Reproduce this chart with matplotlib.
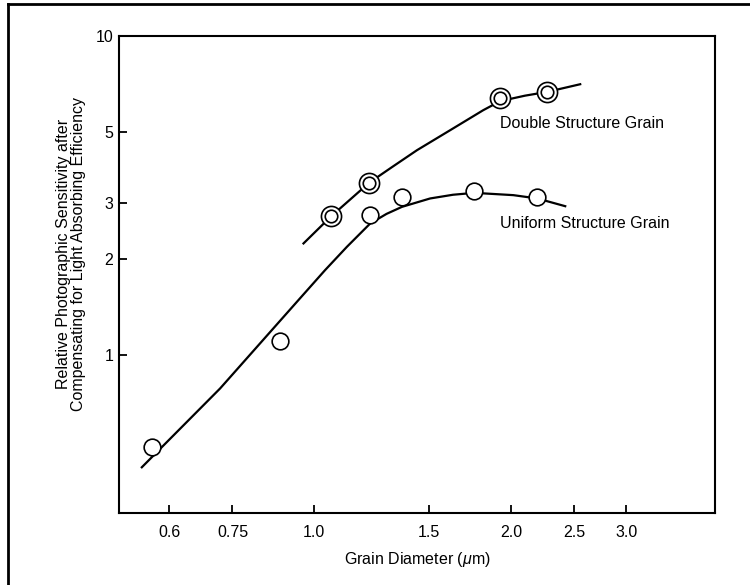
import matplotlib.pyplot as plt
import matplotlib.lines as mlines

plt.rcParams['font.family'] = ['Liberation Sans', 'DejaVu Sans']
plt.rcParams['mathtext.fontset'] = 'custom'
plt.rcParams['mathtext.rm'] = 'Liberation Sans'
plt.rcParams['mathtext.it'] = 'Liberation Sans:italic'

# ==============================
# data
# ==============================
# measured points
uniform_x = [0.565, 0.885, 1.218, 1.362, 1.757, 2.193]
uniform_y = [0.516, 1.104, 2.745, 3.126, 3.264, 3.126]
double_x = [1.062, 1.214, 1.925, 2.271]
double_y = [2.725, 3.47, 6.38, 6.66]

# hand drawn trend curves
uniform_curve_x = [0.545, 0.718, 0.946, 1.039, 1.122, 1.218, 1.29, 1.362, 1.504, 1.63, 1.757, 2.016, 2.193, 2.42]
uniform_curve_y = [0.445, 0.786, 1.487, 1.846, 2.184, 2.585, 2.77, 2.914, 3.096, 3.18, 3.224, 3.171, 3.096, 2.928]
double_curve_x = [0.963, 1.062, 1.214, 1.316, 1.436, 1.614, 1.813, 1.925, 2.1, 2.271, 2.551]
double_curve_y = [2.238, 2.725, 3.47, 3.886, 4.386, 5.067, 5.853, 6.25, 6.5, 6.68, 7.06]

x_ticks = [0.6, 0.75, 1.0, 1.5, 2.0, 2.5, 3.0]
x_tick_labels = ['0.6', '0.75', '1.0', '1.5', '2.0', '2.5', '3.0']
y_ticks = [1, 2, 3, 5, 10]
y_tick_labels = ['1', '2', '3', '5', '10']

# ==============================
# figure
# ==============================
fig = plt.figure(figsize=(7.5, 5.85), dpi=100)
ax = fig.add_axes([0.1587, 0.1231, 0.7946, 0.8154])

ax.plot(uniform_curve_x, uniform_curve_y, color='black', lw=1.6, zorder=2)
ax.plot(double_curve_x, double_curve_y, color='black', lw=1.6, zorder=2)

# uniform grain: single open circles
ax.plot(uniform_x, uniform_y, 'o', ms=12, mfc='white', mec='black', mew=1.2, zorder=3)
# double grain: circle in circle
ax.plot(double_x, double_y, 'o', ms=14.5, mfc='white', mec='black', mew=1.2, zorder=3)
ax.plot(double_x, double_y, 'o', ms=9, mfc='white', mec='black', mew=1.2, zorder=4)

ax.text(1.925, 5.33, 'Double Structure Grain', fontsize=11.5, va='center', ha='left')
ax.text(1.925, 2.59, 'Uniform Structure Grain', fontsize=11.5, va='center', ha='left')

ax.set_xscale('log')
ax.set_yscale('log')
ax.set_xlim(0.503, 4.1)
ax.set_ylim(0.32, 10)

ax.set_xticks(x_ticks)
ax.set_xticklabels(x_tick_labels)
ax.set_yticks(y_ticks)
ax.set_yticklabels(y_tick_labels)
ax.minorticks_off()
ax.tick_params(direction='in', length=6, width=1.3, labelsize=11.5)
ax.tick_params(axis='x', pad=9)
ax.tick_params(axis='y', pad=4)

for s in ax.spines.values():
    s.set_linewidth(1.5)

ax.set_xlabel('Grain Diameter ($\\mu$m)', fontsize=11.5, labelpad=7)
ax.set_ylabel('Relative Photographic Sensitivity after\nCompensating for Light Absorbing Efficiency',
              fontsize=11.5, linespacing=1.05)
ax.yaxis.set_label_coords(-0.055, 0.543)

# outer frame of the scanned figure (top and left edges)
fig.add_artist(mlines.Line2D([8 / 750, 1.0], [1 - 4 / 585, 1 - 4 / 585], color='black', lw=2,
                             transform=fig.transFigure))
fig.add_artist(mlines.Line2D([8 / 750, 8 / 750], [0.0, 1 - 4 / 585], color='black', lw=2,
                             transform=fig.transFigure))

plt.savefig('out.png', dpi=100)
